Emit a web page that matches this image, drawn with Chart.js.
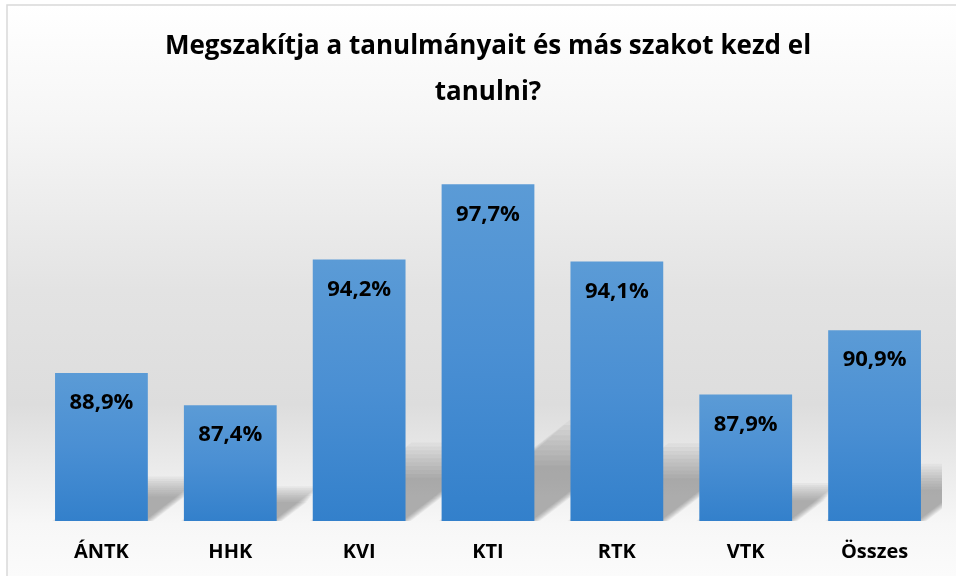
<!DOCTYPE html>
<html>
<head>
<meta charset="utf-8">
<script src="https://cdn.jsdelivr.net/npm/chart.js@4"></script>
<style>
  html, body { margin: 0; padding: 0; background: #ffffff; }
  #wrap { width: 956px; height: 576px; position: relative; }
</style>
</head>
<body>
<div id="wrap"><canvas id="c" width="956" height="576"></canvas></div>
<script>
const titleLines = ['Megszakítja a tanulmányait és más szakot kezd el', 'tanulni?'];
const categories = ['ÁNTK', 'HHK', 'KVI', 'KTI', 'RTK', 'VTK', 'Összes'];
const values = [88.9, 87.4, 94.2, 97.7, 94.1, 87.9, 90.9];
const axisMin = 82;
const axisMax = 100;

const fmt = v => v.toFixed(1).replace('.', ',') + '%';

const bgPlugin = {
  id: 'bg',
  beforeDraw(chart) {
    const ctx = chart.ctx;
    const W = chart.width, H = chart.height;
    ctx.save();
    ctx.fillStyle = '#ffffff';
    ctx.fillRect(0, 0, W, H);
    const g = ctx.createLinearGradient(0, 5, 0, H);
    g.addColorStop(0.00, '#ffffff');
    g.addColorStop(0.20, '#f6f6f6');
    g.addColorStop(0.50, '#e3e3e3');
    g.addColorStop(0.70, '#dddddd');
    g.addColorStop(0.82, '#ececec');
    g.addColorStop(0.91, '#f7f7f7');
    g.addColorStop(1.00, '#fbfbfb');
    ctx.fillStyle = g;
    ctx.fillRect(7, 5, W - 7, H - 5);
    ctx.strokeStyle = '#d9d9d9';
    ctx.lineWidth = 1.5;
    ctx.beginPath();
    ctx.moveTo(7, H);
    ctx.lineTo(7, 5);
    ctx.lineTo(W, 5);
    ctx.stroke();
    ctx.restore();
  }
};

const shadowPlugin = {
  id: 'barShadow',
  beforeDatasetsDraw(chart) {
    const ctx = chart.ctx;
    const area = chart.chartArea;
    const meta = chart.getDatasetMeta(0);
    ctx.save();
    ctx.beginPath();
    ctx.rect(area.left, area.top, area.right - area.left + 3, area.bottom - area.top);
    ctx.clip();
    ctx.fillStyle = 'rgba(70,70,70,0.05)';
    const layers = [1.2, 1.14, 1.08, 1.02, 0.96, 0.9, 0.84, 0.78, 0.72, 0.66];
    meta.data.forEach(el => {
      const base = Math.min(el.base, area.bottom);
      const left = el.x - el.width / 2;
      const right = el.x + el.width / 2;
      const h = base - el.y;
      const sh = h * 0.25;
      const sx = sh * 1.3;
      layers.forEach(f => {
        const d = (1 - f) * 16;
        ctx.beginPath();
        ctx.moveTo(left + d, base);
        ctx.lineTo(right + d, base);
        ctx.lineTo(right + d + sx * f, base - sh * f);
        ctx.lineTo(left + d + sx * f, base - sh * f);
        ctx.closePath();
        ctx.fill();
      });
    });
    ctx.restore();
  }
};

const labelPlugin = {
  id: 'valueLabels',
  afterDatasetsDraw(chart) {
    const ctx = chart.ctx;
    const meta = chart.getDatasetMeta(0);
    ctx.save();
    ctx.font = 'bold 22px "Open Sans"';
    ctx.fillStyle = '#000000';
    ctx.textAlign = 'center';
    ctx.textBaseline = 'middle';
    meta.data.forEach((el, i) => {
      ctx.fillText(fmt(values[i]), el.x, el.y + 30);
    });
    ctx.restore();
  }
};

function barGradient(context) {
  const chart = context.chart;
  const ys = chart.scales && chart.scales.y;
  if (!ys || !chart.chartArea) return '#4a8fd2';
  const v = context.raw;
  const top = ys.getPixelForValue(v);
  const bot = ys.getPixelForValue(axisMin);
  if (!isFinite(top) || !isFinite(bot) || top === bot) return '#4a8fd2';
  const g = chart.ctx.createLinearGradient(0, top, 0, bot);
  g.addColorStop(0, '#5b9bd6');
  g.addColorStop(0.5, '#4a8fd3');
  g.addColorStop(1, '#3380cb');
  return g;
}

new Chart(document.getElementById('c'), {
  type: 'bar',
  data: {
    labels: categories,
    datasets: [{
      data: values,
      backgroundColor: barGradient,
      borderWidth: 0,
      categoryPercentage: 0.72,
      barPercentage: 1.0
    }]
  },
  options: {
    responsive: false,
    animation: false,
    devicePixelRatio: 1,
    layout: { padding: { left: 37, right: 17, top: 0, bottom: 14 } },
    plugins: {
      legend: { display: false },
      tooltip: { enabled: false },
      title: {
        display: true,
        text: titleLines,
        color: '#000000',
        font: { family: 'Open Sans', size: 26, weight: 'bold', lineHeight: 1.77 },
        padding: { top: 24, bottom: 19 }
      }
    },
    scales: {
      x: {
        grid: { display: false, drawTicks: false },
        border: { display: false },
        ticks: {
          color: '#000000',
          padding: 19,
          font: { family: 'Open Sans', size: 20, weight: 'bold', lineHeight: 1.2 }
        },
        afterFit(scale) { scale.height = 41; }
      },
      y: {
        display: false,
        min: axisMin,
        max: axisMax
      }
    }
  },
  plugins: [bgPlugin, shadowPlugin, labelPlugin]
});
</script>
</body>
</html>
